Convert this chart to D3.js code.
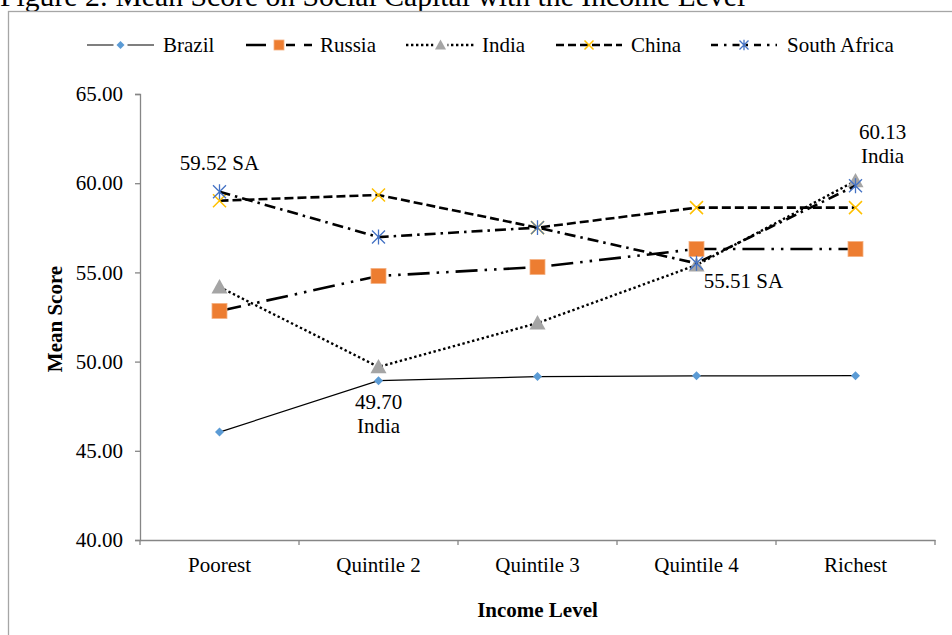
<!DOCTYPE html>
<html>
<head>
<meta charset="utf-8">
<script src="https://cdn.jsdelivr.net/npm/d3@7/dist/d3.min.js"></script>
<style>
  html, body { margin: 0; padding: 0; background: #fff; }
  svg { display: block; font-family: "Liberation Serif", "Times New Roman", serif; }
</style>
</head>
<body>
<svg id="chart" width="952" height="635"></svg>
<script>
// Income groups along the horizontal axis
const categories = ["Poorest", "Quintile 2", "Quintile 3", "Quintile 4", "Richest"];

// Mean social-capital score per income group
const brazil      = [46.05, 48.93, 49.16, 49.20, 49.21];
const russia      = [52.84, 54.80, 55.30, 56.31, 56.31];
const india       = [54.18, 49.70, 52.16, 55.41, 60.13];
const china       = [59.02, 59.34, 57.51, 58.63, 58.63];
const southAfrica = [59.52, 56.98, 57.51, 55.51, 59.86];

const seriesNames = ["Brazil", "Russia", "India", "China", "South Africa"];
const yTicks = [40, 45, 50, 55, 60, 65];

// Callouts: [series index, category index, text lines]
const callouts = [
  [4, 0, ["59.52 SA"]],
  [2, 1, ["49.70", "India"]],
  [4, 3, ["55.51 SA"]],
  [2, 4, ["60.13", "India"]]
];

const values = [brazil, russia, india, china, southAfrica];

const styles = [
  { width: 1.2, dash: null,               marker: "diamond",  color: "#5B9BD5", size: 9,  lsize: 8 },
  { width: 2.6, dash: "22,7,2.5,7,2.5,7", marker: "square",   color: "#ED7D31", size: 15, lsize: 10 },
  { width: 2.4, dash: "2.4,2.6",          marker: "triangle", color: "#A5A5A5", size: 16, lsize: 11 },
  { width: 2.6, dash: "9,4",              marker: "x",        color: "#FFC000", size: 13, lsize: 9 },
  { width: 2.6, dash: "11,5,2.5,5",       marker: "star",     color: "#4472C4", size: 13, lsize: 9 }
];
const legendDash = [null, "20,9", "2.4,2.6", "8,4", "7,6,2.5,6"];

const svg = d3.select("#chart");

// Figure caption, partly cut off at the top edge
svg.append("text")
  .attr("x", 0).attr("y", 6)
  .attr("font-size", 29.7)
  .attr("fill", "#000")
  .text("Figure 2: Mean Score on Social Capital with the Income Level");

// Chart frame
svg.append("rect")
  .attr("x", 8.5).attr("y", 11.5)
  .attr("width", 960).attr("height", 640)
  .attr("fill", "none")
  .attr("stroke", "#A6A6A6")
  .attr("stroke-width", 1.3);

const plot = { left: 140, right: 935, top: 94, bottom: 540 };

const x = d3.scaleBand().domain(categories).range([plot.left, plot.right]).padding(0);
const cx = c => x(c) + x.bandwidth() / 2;
const y = d3.scaleLinear().domain([40, 65]).range([plot.bottom, plot.top]);

// Y axis
const yAxis = svg.append("g")
  .attr("transform", `translate(${plot.left},0)`)
  .call(d3.axisLeft(y).tickValues(yTicks).tickFormat(d3.format(".2f")).tickSize(5).tickPadding(12));
yAxis.select(".domain").attr("stroke", "#868686").attr("stroke-width", 1.3);
yAxis.selectAll(".tick line").attr("stroke", "#868686").attr("stroke-width", 1.3);
yAxis.selectAll(".tick text")
  .attr("font-size", 21).attr("fill", "#000")
  .attr("font-family", "Liberation Serif, Times New Roman, serif");

// X axis with ticks between categories
const xAxis = svg.append("g")
  .attr("transform", `translate(0,${plot.bottom})`)
  .call(d3.axisBottom(x).tickSize(0).tickPadding(17));
xAxis.select(".domain").attr("stroke", "#868686").attr("stroke-width", 1.3);
xAxis.selectAll(".tick text")
  .attr("font-size", 21).attr("fill", "#000")
  .attr("font-family", "Liberation Serif, Times New Roman, serif");
const bounds = categories.map(c => x(c)).concat([plot.right]);
xAxis.selectAll(".bound").data(bounds).enter().append("line")
  .attr("class", "bound")
  .attr("x1", d => d).attr("x2", d => d)
  .attr("y1", 0).attr("y2", 5)
  .attr("stroke", "#868686").attr("stroke-width", 1.3);

// Axis titles
svg.append("text")
  .attr("transform", `translate(62,${(plot.top + plot.bottom) / 2 + 2}) rotate(-90)`)
  .attr("text-anchor", "middle")
  .attr("font-size", 21).attr("font-weight", "bold")
  .text("Mean Score");
svg.append("text")
  .attr("x", (plot.left + plot.right) / 2).attr("y", 617)
  .attr("text-anchor", "middle")
  .attr("font-size", 21).attr("font-weight", "bold")
  .text("Income Level");

// Marker drawing
function drawMarker(g, type, color, s) {
  const h = s / 2;
  if (type === "diamond") {
    g.append("path").attr("d", `M0,${-h}L${h},0L0,${h}L${-h},0Z`).attr("fill", color);
  } else if (type === "square") {
    g.append("rect").attr("x", -h).attr("y", -h).attr("width", s).attr("height", s)
      .attr("fill", color).attr("stroke", "#F4B183").attr("stroke-width", 0.8);
  } else if (type === "triangle") {
    g.append("path").attr("d", `M0,${-h}L${h},${h * 0.8}L${-h},${h * 0.8}Z`).attr("fill", color);
  } else if (type === "x") {
    g.append("path").attr("d", `M${-h},${-h}L${h},${h}M${-h},${h}L${h},${-h}`)
      .attr("stroke", color).attr("stroke-width", 1.5).attr("fill", "none");
  } else if (type === "star") {
    g.append("path").attr("d", `M${-h},${-h}L${h},${h}M${-h},${h}L${h},${-h}M0,${-h * 1.15}L0,${h * 1.15}`)
      .attr("stroke", color).attr("stroke-width", 1.3).attr("fill", "none");
  }
}

const line = d3.line().x((d, i) => cx(categories[i])).y(d => y(d));

values.forEach((vals, si) => {
  const st = styles[si];
  const g = svg.append("g").attr("class", "series");
  g.append("path")
    .datum(vals)
    .attr("d", line)
    .attr("fill", "none")
    .attr("stroke", "#000")
    .attr("stroke-width", st.width)
    .attr("stroke-dasharray", st.dash);
  vals.forEach((v, i) => {
    const mg = g.append("g").attr("transform", `translate(${cx(categories[i])},${y(v)})`);
    drawMarker(mg, st.marker, st.color, st.size);
  });
});

// Value callouts placed around their points
callouts.forEach(([si, ci, lines]) => {
  const px = cx(categories[ci]);
  const py = y(values[si][ci]);
  let dx = 0, dy = 0;
  if (ci === 0) { dx = 0; dy = -22; }
  else if (ci === 1) { dx = 0; dy = 42; }
  else if (ci === 3) { dx = 47; dy = 25; }
  else if (ci === 4) { dx = 27; dy = -42; }
  const t = svg.append("text")
    .attr("text-anchor", "middle")
    .attr("font-size", 21)
    .attr("fill", "#000");
  lines.forEach((ln, k) => {
    t.append("tspan").attr("x", px + dx).attr("y", py + dy + k * 24).text(ln);
  });
});

// Legend
const legendItems = [
  { x0: 87,  x1: 154, tx: 163 },
  { x0: 246, x1: 312, tx: 320 },
  { x0: 406, x1: 475, tx: 482 },
  { x0: 556, x1: 622, tx: 631 },
  { x0: 711, x1: 777, tx: 787 }
];
const legendY = 45;
const legend = svg.append("g").attr("class", "legend");
seriesNames.forEach((name, si) => {
  const it = legendItems[si];
  const st = styles[si];
  legend.append("line")
    .attr("x1", it.x0).attr("x2", it.x1)
    .attr("y1", legendY).attr("y2", legendY)
    .attr("stroke", "#000")
    .attr("stroke-width", st.width)
    .attr("stroke-dasharray", legendDash[si]);
  const mg = legend.append("g").attr("transform", `translate(${(it.x0 + it.x1) / 2},${legendY})`);
  if (st.marker === "square" || st.marker === "triangle" || st.marker === "diamond") {
    mg.append("rect").attr("x", -7).attr("y", -6).attr("width", 14).attr("height", 12).attr("fill", "#fff");
  }
  drawMarker(mg, st.marker, st.color, st.lsize);
  legend.append("text")
    .attr("x", it.tx).attr("y", legendY + 7)
    .attr("font-size", 21)
    .text(name);
});
</script>
</body>
</html>
